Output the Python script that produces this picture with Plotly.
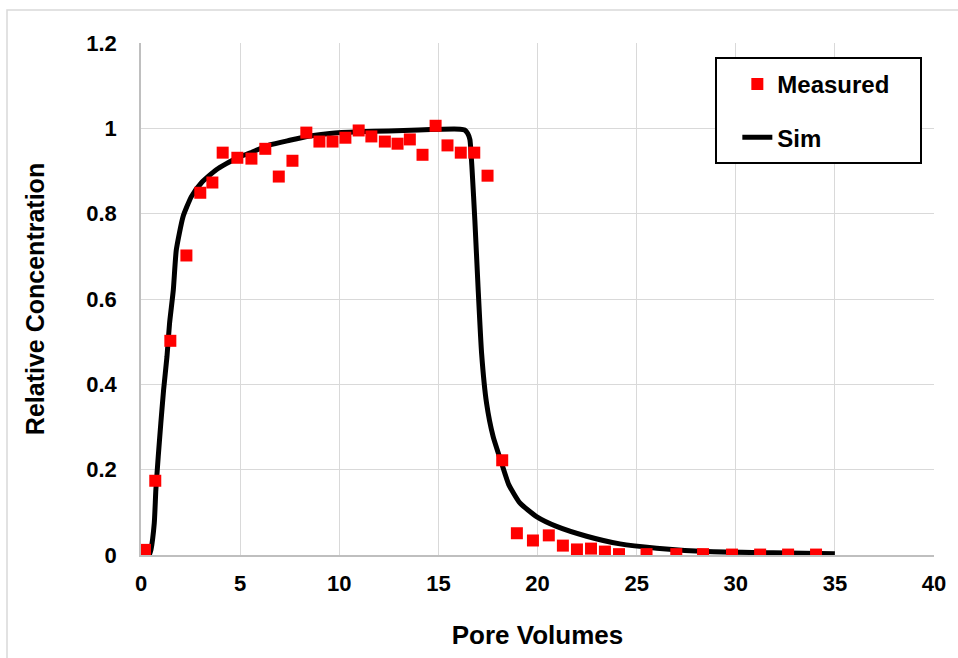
import plotly.graph_objects as go

# Measured data (Pore Volumes, Relative Concentration)
measured_x = [0.2, 0.72, 1.48, 2.29, 2.99, 3.6, 4.12, 4.86, 5.57, 6.27, 6.95, 7.64, 8.34, 9.0,
              9.66, 10.31, 10.98, 11.62, 12.3, 12.94, 13.56, 14.2, 14.86, 15.46, 16.13, 16.81,
              17.48, 18.22, 18.96, 19.77, 20.57, 21.28, 21.99, 22.7, 23.4, 24.11, 25.5, 27.0,
              28.35, 29.81, 31.23, 32.64, 34.05]
measured_y = [0.012, 0.174, 0.502, 0.702, 0.849, 0.873, 0.943, 0.931, 0.929, 0.952, 0.887, 0.924,
              0.99, 0.969, 0.969, 0.978, 0.995, 0.981, 0.969, 0.964, 0.974, 0.938, 1.006, 0.96,
              0.943, 0.943, 0.889, 0.222, 0.051, 0.034, 0.046, 0.022, 0.013, 0.015, 0.008, 0.002,
              0.002, 0.002, 0.002, 0.001, 0.001, 0.001, 0.001]

# Simulated curve
sim_x = [0.42, 0.5, 0.67, 0.75, 0.87, 1.0, 1.14, 1.31, 1.44, 1.63, 1.78, 2.12, 2.54, 3.04, 3.8,
         4.81, 5.48, 6.49, 7.5, 8.51, 9.52, 11.0, 12.5, 14.0, 15.2, 16.1, 16.33, 16.48, 16.59,
         16.7, 16.84, 17.0, 17.18, 17.43, 17.76, 18.19, 18.55, 19.11, 19.95, 20.96, 22.48,
         24.16, 26.01, 28.54, 31.88, 35.0]
sim_y = [0.0, 0.012, 0.075, 0.153, 0.231, 0.309, 0.387, 0.465, 0.543, 0.621, 0.715, 0.793, 0.84,
         0.872, 0.903, 0.93, 0.942, 0.961, 0.972, 0.982, 0.988, 0.992, 0.994, 0.996, 0.998, 0.998,
         0.996, 0.988, 0.974, 0.903, 0.785, 0.629, 0.473, 0.356, 0.278, 0.215, 0.165, 0.122,
         0.09, 0.067, 0.044, 0.026, 0.016, 0.008, 0.005, 0.003]

x_ticks = [0, 5, 10, 15, 20, 25, 30, 35, 40]
y_ticks = [0, 0.2, 0.4, 0.6, 0.8, 1.0, 1.2]
y_tick_text = ["0", "0.2", "0.4", "0.6", "0.8", "1", "1.2"]

FONT = "Arial, 'Liberation Sans', sans-serif"

fig = go.Figure()
# line first so markers are drawn on top
fig.add_trace(go.Scatter(
    x=sim_x, y=sim_y, mode="lines", name="Sim", legendgroup="b", legendrank=2,
    line=dict(color="#000000", width=5, shape="spline", smoothing=0.5),
))
fig.add_trace(go.Scatter(
    x=measured_x, y=measured_y, mode="markers", name="Measured", legendgroup="a", legendrank=1,
    marker=dict(symbol="square", size=12, color="#ff0000", line=dict(width=0)),
))

fig.update_layout(
    width=958, height=658,
    margin=dict(l=141, r=24, t=43, b=103),
    paper_bgcolor="white", plot_bgcolor="white",
    font=dict(family=FONT, size=24, color="black", weight="bold"),
    showlegend=True,
    legend=dict(
        x=0.752, y=0.963, xanchor="left", yanchor="top",
        bgcolor="rgba(0,0,0,0)", borderwidth=0,
        font=dict(family=FONT, size=24, color="black", weight="bold"),
        traceorder="grouped", tracegroupgap=19,
    ),
    xaxis=dict(
        range=[0, 40], tickvals=x_ticks, showgrid=True, gridcolor="#d9d9d9", gridwidth=1,
        showline=True, linecolor="#bfbfbf", linewidth=1.5, zeroline=False,
        ticks="outside", ticklen=8, tickcolor="rgba(0,0,0,0)",
        tickfont=dict(family=FONT, size=22, color="black", weight="bold"),
        title=dict(text="Pore Volumes", standoff=31,
                   font=dict(family=FONT, size=26, color="black", weight="bold")),
    ),
    yaxis=dict(
        range=[0, 1.2], tickvals=y_ticks, ticktext=y_tick_text, showgrid=True,
        gridcolor="#d9d9d9", gridwidth=1,
        showline=True, linecolor="#bfbfbf", linewidth=1.5, zeroline=False,
        ticks="outside", ticklen=18, tickcolor="rgba(0,0,0,0)",
        tickfont=dict(family=FONT, size=22, color="black", weight="bold"),
        title=dict(text="Relative Concentration", standoff=35,
                   font=dict(family=FONT, size=25, color="black", weight="bold")),
    ),
    shapes=[
        # outer chart border
        dict(type="rect", xref="paper", yref="paper",
             x0=(7 - 141) / 793, x1=(975 - 141) / 793,
             y0=(555 - 680) / 512, y1=(555 - 10) / 512,
             line=dict(color="#d9d9d9", width=1.5), fillcolor="rgba(0,0,0,0)", layer="below"),
        # legend box
        dict(type="rect", xref="paper", yref="paper",
             x0=(716 - 141) / 793, x1=(921 - 141) / 793,
             y0=(555 - 163) / 512, y1=(555 - 58) / 512,
             line=dict(color="black", width=2), fillcolor="white", layer="above"),
    ],
)

fig.write_html("out.html")
